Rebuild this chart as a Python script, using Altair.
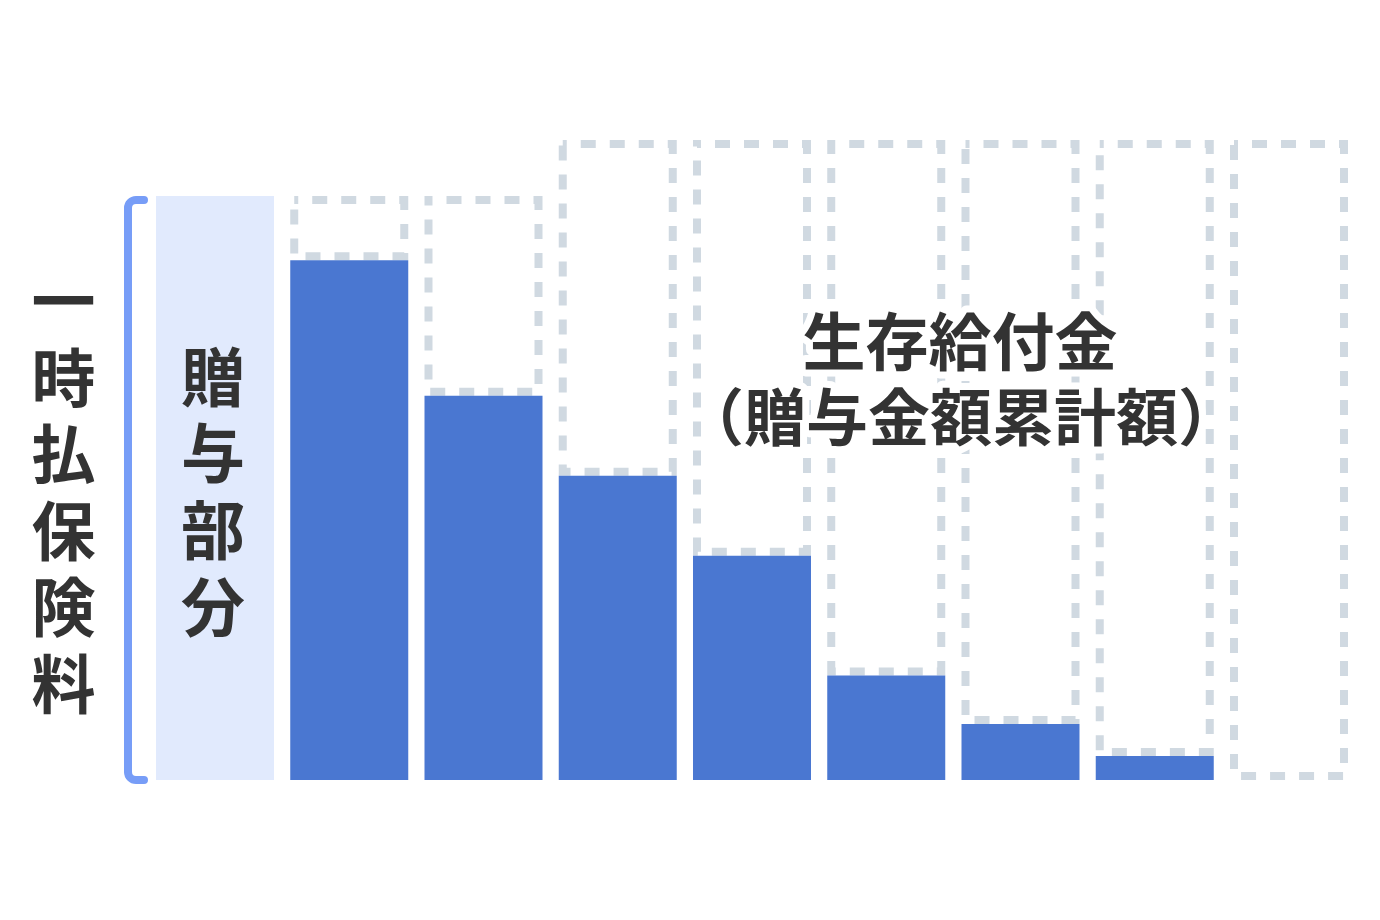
import altair as alt
import pandas as pd

# ---- data ----
categories = ["贈与部分", "1年目", "2年目", "3年目", "4年目", "5年目", "6年目", "7年目", "8年目"]
premium = 100
payouts = [89.0, 65.8, 52.1, 38.4, 17.9, 9.6, 4.1, 0.0]
ceilings = [100, 100, 109.6, 109.6, 109.6, 109.6, 109.6, 109.6]
left_label = list("一時払保険料")
gift_label = list("贈与部分")
title_line1 = "生存給付金"
title_line2 = "（贈与金額累計額）"

# ---- style ----
BAR = "#4a77d1"
LIGHT = "#e1eafd"
DASH = "#d0d9e1"
BRACKET = "#779df7"
TEXT = "#333333"
FONT = "Noto Sans CJK JP"

x_scale = alt.Scale(domain=categories, range=[148, 1340], paddingInner=0.121, paddingOuter=0)
y_scale = alt.Scale(domain=[0, 100], range=[772, 188], nice=False)

bars_df = pd.DataFrame({"col": categories[1:], "payout": payouts, "ceiling": ceilings})
gift_df = pd.DataFrame({"col": [categories[0]], "top": [premium], "base": [0]})

X = alt.X("col:N", scale=x_scale, axis=None)

gift_rect = alt.Chart(gift_df).mark_bar(color=LIGHT).encode(
    x=X,
    y=alt.Y("top:Q", scale=y_scale, axis=None),
    y2="base:Q",
)

dashed = alt.Chart(bars_df).mark_bar(
    filled=False,
    color=DASH,
    strokeWidth=8,
    strokeDash=[15, 14],
    strokeDashOffset=11,
    width=alt.RelativeBandSize(band=110 / 118),
    yOffset=4,
    y2Offset=-4,
).encode(
    x=X,
    y=alt.Y("ceiling:Q", scale=y_scale, axis=None),
    y2="payout:Q",
)

solid = alt.Chart(bars_df).mark_bar(color=BAR).encode(
    x=X,
    y=alt.Y("payout:Q", scale=y_scale, axis=None),
)

# bracket: a rect outline with rounded left corners; dash hides its right edge
H = 580
bracket = alt.Chart(gift_df).mark_rect(
    filled=False,
    stroke=BRACKET,
    strokeWidth=8,
    cornerRadiusTopLeft=8,
    cornerRadiusBottomLeft=8,
    strokeCap="round",
    strokeDash=[8, H + 1, 3000],
    yOffset=4,
).encode(
    x=alt.value(120),
    x2=alt.value(136.5),
    y=alt.Y("top:Q", scale=y_scale, axis=None),
    y2="base:Q",
)


def text_layer(lines, x, y, size, lh, halo=False):
    kw = dict(
        text=lines, font=FONT, fontSize=size, fontWeight="bold", lineHeight=lh,
        align="center", baseline="middle",
    )
    if halo:
        kw.update(fill="white", stroke="white", strokeWidth=14, strokeJoin="round")
    else:
        kw.update(color=TEXT)
    return alt.Chart(alt.Data(values=[{}])).mark_text(**kw).encode(
        x=alt.value(x), y=alt.value(y)
    )


left_text = text_layer(left_label, 55.5, 298, 64, 76.6)
gift_text = text_layer(gift_label, 205, 373.5, 64, 76.8)
t1_halo = text_layer(title_line1, 952, 338, 63, 76, halo=True)
t2_halo = text_layer(title_line2, 953, 414, 62, 76, halo=True)
t1_text = text_layer(title_line1, 952, 338, 63, 76)
t2_text = text_layer(title_line2, 953, 414, 62, 76)

chart = alt.layer(
    gift_rect, dashed, solid, bracket, left_text, gift_text,
    t1_halo, t2_halo, t1_text, t2_text
).properties(
    width=1345, height=860, autosize="none", padding=0
).configure_view(strokeWidth=0)

chart.save("out.html", embed_options={"renderer": "svg", "actions": False})
